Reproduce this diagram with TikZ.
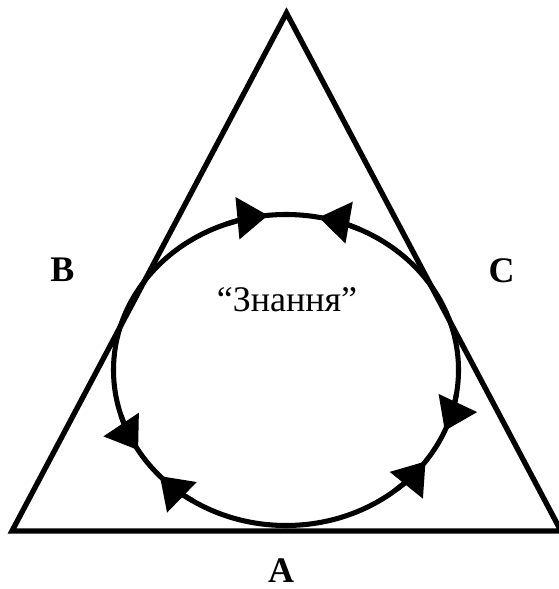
\documentclass[tikz,border=0pt]{standalone}
\usepackage{fontspec}
\setmainfont{Liberation Serif}
\usetikzlibrary{arrows.meta}

\begin{document}
\begin{tikzpicture}[
      x = .75pt, y = .75pt, font = \fontsize{27}{32}\selectfont,
      side/.style = {draw = black, line width = 4pt, line join = miter},
      ring/.style = {draw = black, line width = 3.8pt},
      head/.style = {ring, -{Triangle[length = 23pt, width = 31pt]}},
      vert/.style = {font = \fontsize{27}{32}\selectfont\bfseries, inner sep = 0pt},
      word/.style = {inner sep = 0pt}
    ]
  \useasboundingbox (0,0) rectangle (558,589);

  % triangle -----------------------------------------------------------
  \coordinate (tTop)   at (286.5,576);
  \coordinate (tLeft)  at (12,58);
  \coordinate (tRight) at (561,58);
  \draw[side] (tTop) -- (tRight) -- (tLeft) -- cycle;

  % knowledge cycle -----------------------------------------------------
  \coordinate (mid) at (286,219);
  \draw[ring] (mid) ellipse [x radius = 172.5, y radius = 155.5];
  % arrow heads, each pair meets
  \foreach \a/\b in {110/96, 197/211, 237/223, 310/324, 351/337, 65/79}
    \draw[head] ([shift = {(\a:172.5 and 155.5)}]mid)
          arc [start angle = \a, end angle = \b, x radius = 172.5, y radius = 155.5];

  % labels -------------------------------------------------------------
  \node[word, anchor = base] (know) at (287,277) {“Знання”};
  \node[vert, anchor = base] (sB) at (62.5,307) {B};
  \node[vert, anchor = base] (sC) at (501.5,306) {C};
  \node[vert, anchor = base] (sA) at (281,7) {A};

\end{tikzpicture}
\end{document}
